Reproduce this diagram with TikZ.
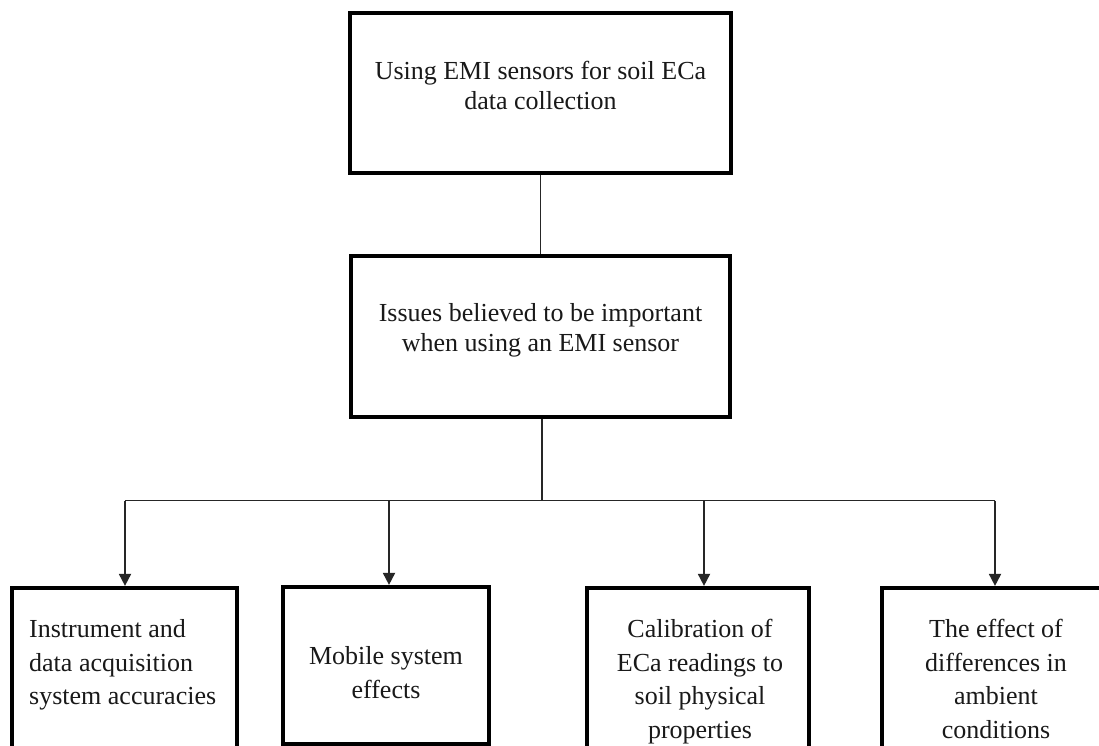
\documentclass[tikz,border=0pt]{standalone}
\usepackage{fontspec}
\setmainfont{Liberation Serif}
\usetikzlibrary{arrows.meta}
\begin{document}
\begin{tikzpicture}[x=1pt,y=-1pt,
  boxnode/.style={draw=black, line width=3.2pt, rectangle, inner sep=0pt, fill=none},
  link/.style={draw=black!85, line width=1.8pt},
  arrowlink/.style={link, -{Triangle[width=12pt,length=12pt]}, shorten >=0.5pt},
  toptext/.style={inner sep=0pt, anchor=base, font=\fontsize{26}{30}\selectfont, text=black!90},
  bottext/.style={inner sep=0pt, font=\fontsize{26}{33.5}\selectfont, text=black!90}]
\clip (0,0) rectangle (1099,746);
\fill[white] (0,0) rectangle (1099,746);
% boxes
\node[boxnode, minimum width=381pt, minimum height=160pt] (top) at (540.5,93) {};
\node[boxnode, minimum width=379pt, minimum height=161pt] (mid) at (540.5,336.5) {};
\node[boxnode, minimum width=225pt, minimum height=240pt] (b1) at (124.5,708) {};
\node[boxnode, minimum width=206pt, minimum height=157pt] (b2) at (386,665.5) {};
\node[boxnode, minimum width=222pt, minimum height=240pt] (b3) at (698,708) {};
\node[boxnode, minimum width=228pt, minimum height=240pt] (b4) at (996,708) {};
% texts
\node[toptext] (ttop) at (540.5,80) {\parbox[t]{370pt}{\centering Using EMI sensors for soil ECa\\ data collection}};
\node[toptext] (tmid) at (540.5,321.7) {\parbox[t]{370pt}{\centering Issues believed to be important\\ when using an EMI sensor}};
\node[bottext, anchor=base west] (tb1) at (29,637.5) {\parbox[t]{205pt}{\raggedright Instrument and\\ data acquisition\\ system accuracies}};
\node[bottext, anchor=base] (tb2) at (386,664.8) {\parbox[t]{200pt}{\centering Mobile system\\ effects}};
\node[bottext, anchor=base] (tb3) at (700,637.5) {\parbox[t]{210pt}{\centering Calibration of\\ ECa readings to\\ soil physical\\ properties}};
\node[bottext, anchor=base] (tb4) at (996,637.5) {\parbox[t]{210pt}{\centering The effect of\\ differences in\\ ambient\\ conditions}};
% connectors
\coordinate (j0) at (542,500.5);
\coordinate (j1) at (125,500.5);
\coordinate (j2) at (389,500.5);
\coordinate (j3) at (704,500.5);
\coordinate (j4) at (995,500.5);
\draw[link] (top.south) -- (mid.north);
\draw[link] (mid.south -| j0) -- (j0);
\draw[link] (j1) -- (j4);
\draw[arrowlink] (j1) -- (j1 |- b1.north);
\draw[arrowlink] (j2) -- (j2 |- b2.north);
\draw[arrowlink] (j3) -- (j3 |- b3.north);
\draw[arrowlink] (j4) -- (j4 |- b4.north);
\end{tikzpicture}
\end{document}
